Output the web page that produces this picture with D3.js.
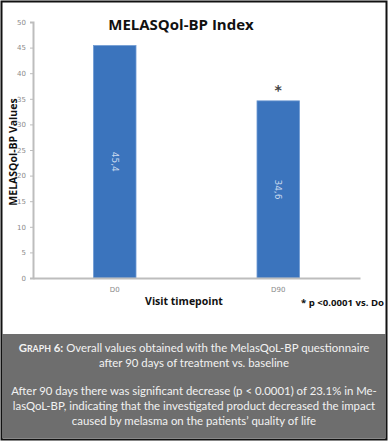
<!DOCTYPE html>
<html><head><meta charset="utf-8">
<script src="https://cdn.jsdelivr.net/npm/d3@7"></script>
<style>body{margin:0;background:#fff}svg{display:block}</style>
</head><body>
<script>
const categories = ["D0", "D90"];
const values = [45.4, 34.6];
const valueLabels = ["45,4", "34,6"];
const significance = ["", "*"];
const yTicks = [0, 5, 10, 15, 20, 25, 30, 35, 40, 45, 50];

const W = 389, H = 444;
const svg = d3.select("body").append("svg").attr("width", W).attr("height", H);
svg.append("defs").append("clipPath").attr("id", "inner")
  .append("rect").attr("x", 2).attr("y", 2).attr("width", 382).attr("height", 436);

// outer frame
svg.append("rect").attr("x", 1.5).attr("y", 1.5).attr("width", 385).attr("height", 438)
  .attr("fill", "#fff").attr("stroke", "#111").attr("stroke-width", 2);

const m = {left: 33, top: 22, bottom: 278, right: 360};
const y = d3.scaleLinear().domain([0, 50]).range([m.bottom, m.top]);
const x = d3.scaleBand().domain(categories).range([m.left, m.right]).paddingInner(0.74).paddingOuter(0.37);

// y axis
const ya = svg.append("g").attr("transform", `translate(${m.left},0)`)
  .call(d3.axisLeft(y).tickValues(yTicks).tickSize(3).tickPadding(4));
ya.select(".domain").attr("stroke", "#bdbdbd").attr("stroke-width", 2);
ya.selectAll(".tick line").attr("stroke", "#bdbdbd");
ya.selectAll(".tick text").attr("fill", "#8a8a8a").style("font", "7px 'DejaVu Sans', sans-serif");

// bars
svg.selectAll("rect.bar").data(values).join("rect").attr("class", "bar")
  .attr("x", (d, i) => x(categories[i])).attr("width", x.bandwidth())
  .attr("y", d => y(d)).attr("height", d => y(0) - y(d))
  .attr("fill", "#3b74bd").attr("stroke", "#6f9bd3").attr("stroke-width", 0.8);

// value labels rotated
svg.selectAll("text.vl").data(values).join("text").attr("class", "vl")
  .attr("transform", (d, i) => `translate(${x(categories[i]) + x.bandwidth() / 2},${(y(d) + y(0)) / 2}) rotate(90)`)
  .attr("text-anchor", "middle").attr("dy", "0.35em")
  .attr("fill", "#c9d9ee").style("font", "9px 'DejaVu Sans', sans-serif")
  .text((d, i) => valueLabels[i]);

// significance
svg.selectAll("text.sig").data(values).join("text").attr("class", "sig")
  .attr("x", (d, i) => x(categories[i]) + x.bandwidth() / 2)
  .attr("y", d => y(d) - 6)
  .attr("text-anchor", "middle").attr("fill", "#444")
  .style("font", "bold 14px 'DejaVu Sans', sans-serif")
  .text((d, i) => significance[i]);

// x axis
const xa = svg.append("g").attr("transform", `translate(0,${m.bottom})`)
  .call(d3.axisBottom(x).tickSize(0).tickPadding(9));
xa.select(".domain").attr("stroke", "#bdbdbd").attr("stroke-width", 2);
xa.selectAll(".tick text").attr("fill", "#8a8a8a").style("font", "7px 'DejaVu Sans', sans-serif");

// titles
svg.append("text").attr("x", 181).attr("y", 30).attr("text-anchor", "middle")
  .attr("fill", "#111").style("font", "bold 15px 'Open Sans', sans-serif").text("MELASQol-BP Index");
svg.append("text").attr("transform", "translate(17,152) rotate(-90)").attr("text-anchor", "middle")
  .attr("fill", "#111").style("font", "bold 10.5px 'Open Sans', sans-serif").text("MELASQol-BP Values");
svg.append("text").attr("x", 184).attr("y", 305).attr("text-anchor", "middle")
  .attr("fill", "#111").style("font", "bold 10.5px 'Open Sans', sans-serif").text("Visit timepoint");
svg.append("text").attr("x", 384).attr("y", 306).attr("text-anchor", "end").attr("clip-path", "url(#inner)")
  .attr("fill", "#111").style("font", "bold 9.6px 'Open Sans', sans-serif").text("* p <0.0001 vs. Do");

// caption box
svg.append("rect").attr("x", 2).attr("y", 334).attr("width", 384).attr("height", 104).attr("fill", "#6e6e6e");
const cap = svg.append("g").attr("fill", "#f2f2f2").style("font", "11.4px Lato, sans-serif").attr("text-anchor", "middle");
const l1 = cap.append("text").attr("x", 194).attr("y", 352);
l1.append("tspan").style("font-weight", "bold").text("G");
l1.append("tspan").style("font-weight", "bold").style("font-size", "8.8px").text("RAPH");
l1.append("tspan").style("font-weight", "bold").text(" 6:");
l1.append("tspan").text(" Overall values obtained with the MelasQoL-BP questionnaire");
cap.append("text").attr("x", 194).attr("y", 367).text("after 90 days of treatment vs. baseline");
cap.append("text").attr("x", 194).attr("y", 395).text("After 90 days there was significant decrease (p < 0.0001) of 23.1% in Me-");
cap.append("text").attr("x", 194).attr("y", 410).text("lasQoL-BP, indicating that the investigated product decreased the impact");
cap.append("text").attr("x", 194).attr("y", 425).text("caused by melasma on the patients’ quality of life");
</script>
</body></html>
